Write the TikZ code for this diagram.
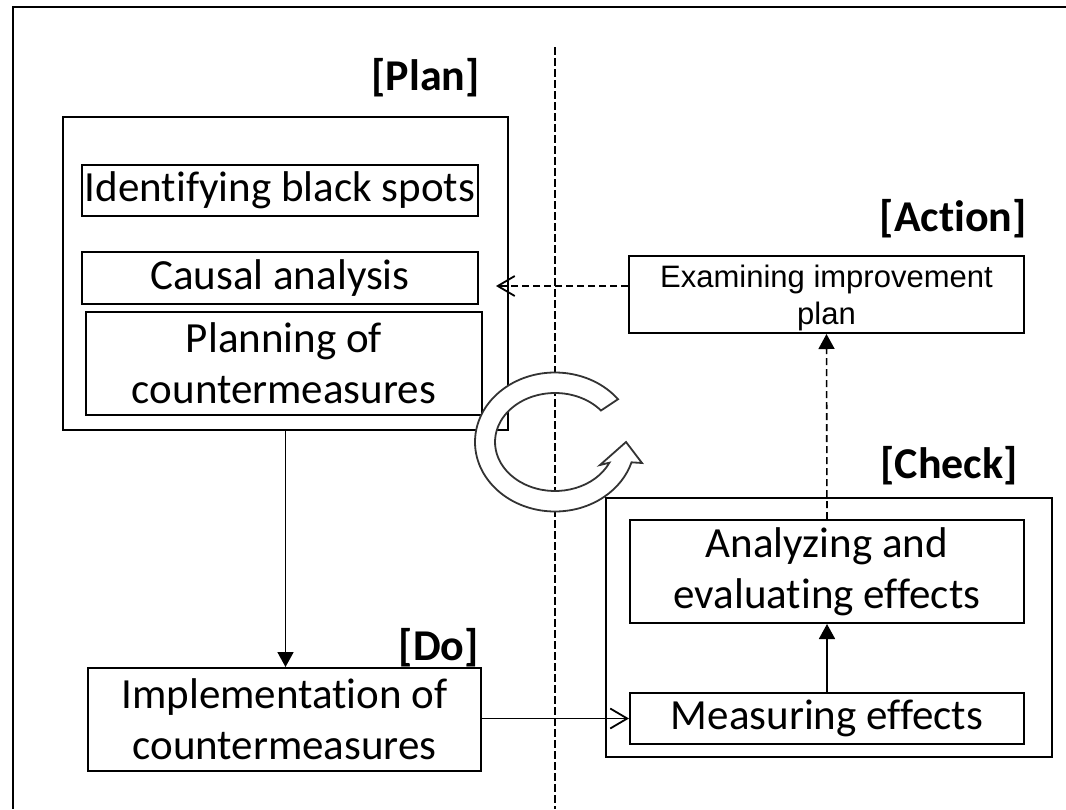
\documentclass[tikz,border=0pt]{standalone}
\usepackage{fontspec}
\setmainfont{Carlito}[Ligatures=NoCommon]
\newfontfamily\arialfont{Liberation Sans}
\usepackage{tikz}
\usetikzlibrary{arrows, arrows.meta}

\tikzset{
	box/.style={draw, line width=2pt, inner sep=0pt, align=center, font=\fontsize{43}{51}\selectfont},
	phase/.style={font=\fontsize{44}{51}\selectfont\bfseries, inner sep=0pt, anchor=east},
	solidtip/.style={line width=1.8pt, -{Triangle[length=15pt,width=16pt]}},
	opentip/.style={line width=1.8pt, -{Straight Barb[length=17pt,width=20pt,line width=1.8pt]}},
	dashline/.style={line width=1.6pt, dash pattern=on 7pt off 4pt}
}

\begin{document}
\begin{tikzpicture}[x=1pt,y=-1pt]
	\useasboundingbox (0,0) rectangle (1066,809);

	%frame and middle line
	\draw[line width=2.6pt] (1066,7) -- (13,7) -- (13,809);
	\draw[line width=1.8pt, dash pattern=on 8pt off 3pt] (555,47) -- (555,809);

	%plan
	\node[box, minimum width=445pt, minimum height=313pt] (plan) at (285.5,273.5) {};
	\node[box, minimum width=396pt, minimum height=51pt]  (ident) at (280,190.5) {Identifying black spots};
	\node[box, minimum width=396pt, minimum height=52pt]  (causal) at (280,278) {Causal analysis};
	\node[box, minimum width=396pt, minimum height=103pt] (planning) at (284,363.5) {Planning of\\countermeasures};

	%do
	\node[box, minimum width=393pt, minimum height=103pt] (do) at (284.5,719.5) {Implementation of\\countermeasures};

	%check
	\node[box, minimum width=446pt, minimum height=259pt] (check) at (829,627.5) {};
	\node[box, minimum width=394pt, minimum height=103pt] (analyzing) at (827,571.5) {Analyzing and\\evaluating effects};
	\node[box, minimum width=394pt, minimum height=51pt]  (measuring) at (827,718.5) {Measuring effects};

	%action
	\node[box, minimum width=395pt, minimum height=77pt, font=\fontsize{31}{37}\arialfont] (examining) at (826.5,294.5) {\rule{0pt}{30pt}Examining improvement\\plan};

	%labels
	\node[phase] (planlabel)   at (480,78)  {[Plan]};
	\node[phase] (dolabel)     at (479,648) {[Do]};
	\node[phase] (checklabel)  at (1018,466) {[Check]};
	\node[phase] (actionlabel) at (1027,219) {[Action]};

	%arrows
	\coordinate (back) at (496,286);
	\draw[solidtip] (plan.south) -- (plan.south |- do.north);
	\draw[opentip] (do.east |- measuring) -- (measuring.west);
	\draw[solidtip] (measuring.north) -- (analyzing.south);
	\draw[solidtip, dashline] (analyzing.north) -- (examining.south);
	\draw[opentip, dashline] (examining.west |- back) -- (back);

	%cycle arrow
	\filldraw[fill=white, draw=black!80, line width=1.8pt]
		([shift={(555,442)}]-38:80 and 69.5) arc[start angle=-38, end angle=-343, x radius=80, y radius=69.5]
		-- (642,463) -- (626,442) -- (600,465) -- (609.4,462.7)
		arc[start angle=25, end angle=320, x radius=60, y radius=49] -- cycle;

	%\draw[help lines] (0,0) grid (1066,809);
\end{tikzpicture}
\end{document}
